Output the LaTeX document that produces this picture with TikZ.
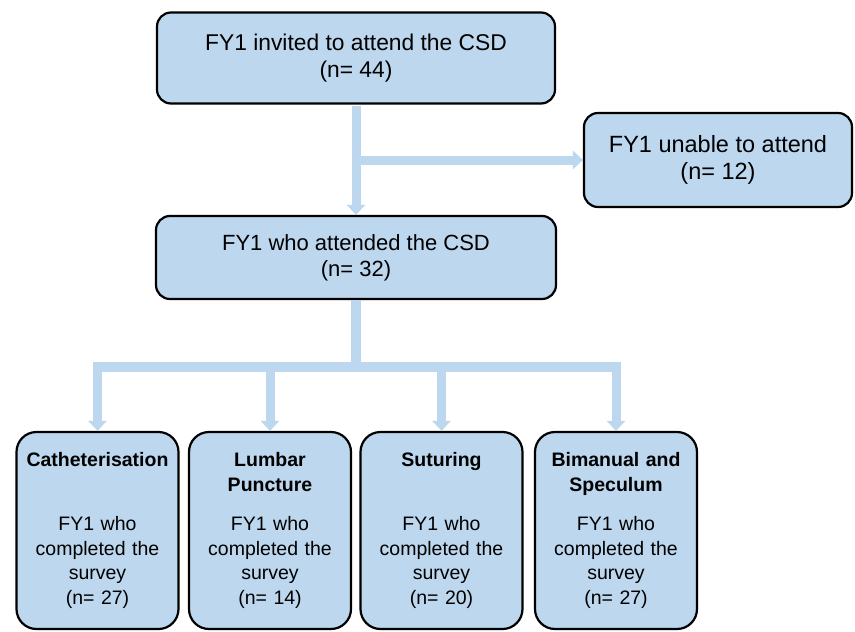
\documentclass[tikz,border=0pt]{standalone}
\usepackage{fontspec}
\setmainfont{Liberation Sans}
\usetikzlibrary{arrows.meta,positioning}
\definecolor{csdblue}{RGB}{189,215,238}

\begin{document}
\begin{tikzpicture}[x=1pt,y=-1pt,
  box/.style={draw=black,line width=2.2pt,fill=csdblue,rounded corners=14pt,align=center,inner sep=0pt,font=\fontsize{22}{26}\selectfont},
  skillbox/.style={box,rounded corners=20pt,minimum width=162pt,minimum height=197pt,text width=158pt,font=\fontsize{19.5}{24.5}\selectfont},
  flow/.style={csdblue,line width=9pt,shorten <=1.1pt,-{Triangle[length=10pt,width=18pt]}},
  bar/.style={csdblue,line width=10pt,line cap=rect}]
\useasboundingbox (0,0) rectangle (855,632);
% top of the flow
\node[box,minimum width=398pt,minimum height=91pt,font=\fontsize{22.8}{26.5}\selectfont] (invited) at (356,58) {FY1 invited to attend the CSD\\(n= 44)};
\node[box,minimum width=268pt,minimum height=94pt,font=\fontsize{23.5}{26.5}\selectfont] (unable) at (718,160) {FY1 unable to attend\\(n= 12)};
\node[box,minimum width=400pt,minimum height=83pt] (attended) at (356,257.5) {FY1 who attended the CSD\\(n= 32)};
% the four skills
\node[skillbox] (cath) at (97.5,530.5) {\textbf{Catheterisation}\\[39.5pt]FY1 who\\completed the\\survey\\(n= 27)};
\node[skillbox] (lumbar) at (270,530.5) {\textbf{Lumbar}\\\textbf{Puncture}\\[15pt]FY1 who\\completed the\\survey\\(n= 14)};
\node[skillbox] (sutur) at (441.5,530.5) {\textbf{Suturing}\\[39.5pt]FY1 who\\completed the\\survey\\(n= 20)};
\node[skillbox] (biman) at (616,530.5) {\textbf{Bimanual and}\\\textbf{Speculum}\\[15pt]FY1 who\\completed the\\survey\\(n= 27)};
% arrows
\coordinate (split) at (attended.south |- 0,367);
\draw[flow] (invited.south) -- (attended.north);
\draw[flow,shorten <=0pt] (invited.south |- unable.west) -- (unable.west);
\draw[bar,line cap=butt] (attended.south) -- (split);
\draw[bar] (cath.north |- split) -- (biman.north |- split);
\foreach \b in {cath,lumbar,sutur,biman}
  \draw[flow,shorten <=0pt] (\b.north |- split) -- (\b.north);
\end{tikzpicture}
\end{document}
